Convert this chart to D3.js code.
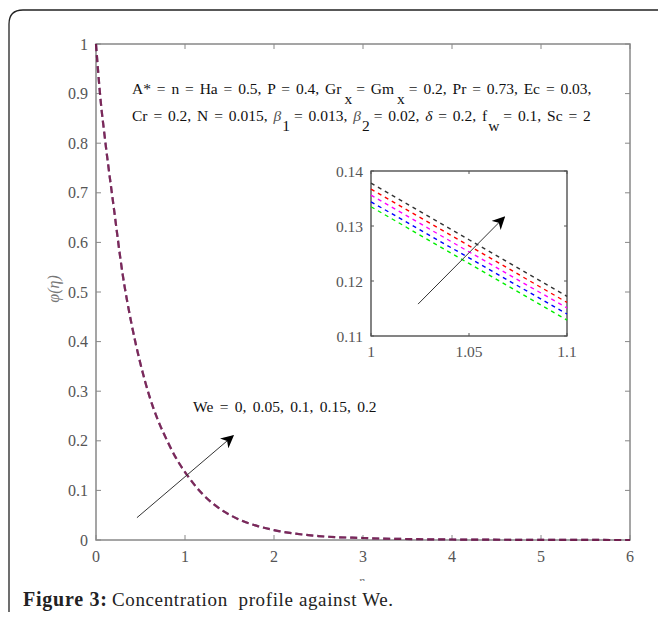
<!DOCTYPE html>
<html>
<head>
<meta charset="utf-8">
<script src="https://cdn.jsdelivr.net/npm/d3@7"></script>
<style>
  body { margin: 0; background: #fff; }
  text { font-family: "Liberation Serif", "Times New Roman", serif; }
</style>
</head>
<body>
<script>
// main plot: profile (all five We curves overlap here)
var eta = [0, 0.05, 0.1, 0.2, 0.3, 0.4, 0.5, 0.6, 0.7, 0.8, 0.9, 1.0, 1.2, 1.4, 1.6, 1.8, 2.0, 2.5, 3.0, 4.0, 5.0, 6.0];
var phi = [1, 0.89, 0.81, 0.67, 0.535, 0.435, 0.355, 0.29, 0.24, 0.2, 0.165, 0.137, 0.092, 0.062, 0.042, 0.029, 0.02, 0.008, 0.004, 0.001, 0.0003, 0];

// inset (zoom 1..1.1)
var etaZoom = [1, 1.05, 1.1];
var weValues = ["0", "0.05", "0.1", "0.15", "0.2"];
var weColors = ["#00ee00", "#0000ff", "#ff00ff", "#ff0000", "#333333"];
var phiZoom = [
  [0.1335, 0.1232, 0.1129],
  [0.1344, 0.1242, 0.1140],
  [0.1356, 0.1253, 0.1151],
  [0.1367, 0.1264, 0.1161],
  [0.1378, 0.1275, 0.1172]
];

var xTicks = [0, 1, 2, 3, 4, 5, 6];
var yTicks = [0, 0.1, 0.2, 0.3, 0.4, 0.5, 0.6, 0.7, 0.8, 0.9, 1];
var xTicksZoom = [1, 1.05, 1.1];
var yTicksZoom = [0.11, 0.12, 0.13, 0.14];

var W = 658, H = 619;
var svg = d3.select("body").append("svg")
  .attr("width", W).attr("height", H);

// frame with rounded corner
svg.append("path")
  .attr("d", "M9,612 L9,24 Q9,10 23,10 L660,10")
  .attr("fill", "none").attr("stroke", "#222").attr("stroke-width", 1.3);

// main scales
var x = d3.scaleLinear().domain([0, 6]).range([96, 630]);
var y = d3.scaleLinear().domain([0, 1]).range([540, 44]);

var axisColor = "#888";
var labelColor = "#555";

// ticks (inward, mirrored on top/right)
var main = svg.append("g");
main.selectAll(".xt").data(xTicks).enter().append("path")
  .attr("d", function(d) { return "M" + x(d) + ",540 v-5 M" + x(d) + ",44 v5"; })
  .attr("stroke", axisColor).attr("stroke-width", 1);
main.selectAll(".yt").data(yTicks).enter().append("path")
  .attr("d", function(d) { return "M96," + y(d) + " h5 M630," + y(d) + " h-5"; })
  .attr("stroke", axisColor).attr("stroke-width", 1);
main.append("rect")
  .attr("x", 96).attr("y", 44).attr("width", 534).attr("height", 496)
  .attr("fill", "none").attr("stroke", axisColor).attr("stroke-width", 1.5);

main.selectAll(".xl").data(xTicks).enter().append("text")
  .attr("x", function(d) { return x(d); }).attr("y", 562)
  .attr("text-anchor", "middle").attr("fill", labelColor)
  .style("font-size", "16px").text(function(d) { return d; });
main.selectAll(".yl").data(yTicks).enter().append("text")
  .attr("x", 88).attr("y", function(d) { return y(d) + 5.5; })
  .attr("text-anchor", "end").attr("fill", labelColor)
  .style("font-size", "16px").text(function(d) { return d; });

// y label
svg.append("text")
  .attr("transform", "translate(59,289) rotate(-90)")
  .attr("text-anchor", "middle").attr("fill", "#777")
  .style("font-size", "16px").style("font-style", "italic")
  .text("\u03c6(\u03b7)");

// x label (mostly hidden behind caption area)
svg.append("text")
  .attr("x", 362).attr("y", 585).attr("text-anchor", "middle")
  .attr("fill", "#777").style("font-size", "12px").style("font-style", "italic")
  .text("\u03b7");
svg.append("rect").attr("x", 12).attr("y", 581).attr("width", 646).attr("height", 38).attr("fill", "#fff");

// main curves: all five lines drawn on top of each other
var lineMain = d3.line()
  .x(function(d, i) { return x(eta[i]); })
  .y(function(d) { return y(d); })
  .curve(d3.curveMonotoneX);
weValues.forEach(function(we, k) {
  main.append("path")
    .datum(phi)
    .attr("d", lineMain)
    .attr("fill", "none")
    .attr("stroke", k == 4 ? "#000" : weColors[k])
    .attr("stroke-opacity", 0.36)
    .attr("stroke-width", 2.2)
    .attr("stroke-dasharray", "7,4");
});

// arrow marker
var defs = svg.append("defs");
defs.append("marker").attr("id", "ah")
  .attr("viewBox", "0 0 10 10").attr("refX", 9).attr("refY", 5)
  .attr("markerWidth", 13).attr("markerHeight", 13)
  .attr("markerUnits", "userSpaceOnUse")
  .attr("orient", "auto")
  .append("path").attr("d", "M0,0 L10,5 L0,10 L3,5 Z").attr("fill", "#000");

// main arrow
svg.append("line")
  .attr("x1", x(0.46)).attr("y1", y(0.045))
  .attr("x2", x(1.54)).attr("y2", y(0.21))
  .attr("stroke", "#333").attr("stroke-width", 1)
  .attr("marker-end", "url(#ah)");

svg.append("text")
  .attr("x", 193).attr("y", 412).attr("fill", "#111")
  .style("font-size", "15.5px").style("word-spacing", "2.5px")
  .text("We = 0, 0.05, 0.1, 0.15, 0.2");

// parameter annotation
var ann = svg.append("text").attr("x", 132).attr("y", 94).attr("fill", "#111")
  .style("font-size", "15.5px").style("word-spacing", "2px");
ann.append("tspan").text("A* = n = Ha = 0.5, P = 0.4, Gr");
ann.append("tspan").attr("dy", 10).attr("dx", 3).text("x");
ann.append("tspan").attr("dy", -10).attr("dx", 4).text("= Gm");
ann.append("tspan").attr("dy", 10).attr("dx", 3).text("x");
ann.append("tspan").attr("dy", -10).attr("dx", 4).text("= 0.2, Pr = 0.73, Ec = 0.03,");

var ann2 = svg.append("text").attr("x", 132).attr("y", 121).attr("fill", "#111")
  .style("font-size", "15.5px").style("word-spacing", "2px");
ann2.append("tspan").text("Cr = 0.2, N = 0.015, ");
ann2.append("tspan").style("font-style", "italic").attr("fill", "#555").text("\u03b2");
ann2.append("tspan").attr("dy", 10).attr("dx", 1).text("1");
ann2.append("tspan").attr("dy", -10).attr("dx", 4).text("= 0.013, ");
ann2.append("tspan").style("font-style", "italic").attr("fill", "#555").text("\u03b2");
ann2.append("tspan").attr("dy", 10).attr("dx", 1).text("2");
ann2.append("tspan").attr("dy", -10).attr("dx", 4).text("= 0.02, ");
ann2.append("tspan").style("font-style", "italic").text("\u03b4");
ann2.append("tspan").text(" = 0.2, f");
ann2.append("tspan").attr("dy", 10).attr("dx", 1).text("w");
ann2.append("tspan").attr("dy", -10).attr("dx", 4).text("= 0.1, Sc = 2");

// inset
var xz = d3.scaleLinear().domain([1, 1.1]).range([371, 567]);
var yz = d3.scaleLinear().domain([0.11, 0.14]).range([336, 171]);
var inset = svg.append("g");
inset.append("rect")
  .attr("x", 371).attr("y", 171).attr("width", 196).attr("height", 165)
  .attr("fill", "#fff").attr("stroke", "#333").attr("stroke-width", 1.2);
inset.selectAll(".zxt").data(xTicksZoom).enter().append("path")
  .attr("d", function(d) { return "M" + xz(d) + ",336 v-3 M" + xz(d) + ",171 v3"; })
  .attr("stroke", "#555");
inset.selectAll(".zyt").data(yTicksZoom).enter().append("path")
  .attr("d", function(d) { return "M371," + yz(d) + " h3 M567," + yz(d) + " h-3"; })
  .attr("stroke", "#555");
inset.selectAll(".zxl").data(xTicksZoom).enter().append("text")
  .attr("x", function(d) { return xz(d); }).attr("y", 357)
  .attr("text-anchor", "middle").attr("fill", labelColor)
  .style("font-size", "15.5px").text(function(d) { return d; });
inset.selectAll(".zyl").data(yTicksZoom).enter().append("text")
  .attr("x", 363).attr("y", function(d) { return yz(d) + 5.5; })
  .attr("text-anchor", "end").attr("fill", labelColor)
  .style("font-size", "15.5px").text(function(d) { return d; });

var lineZoom = d3.line()
  .x(function(d, i) { return xz(etaZoom[i]); })
  .y(function(d) { return yz(d); });
phiZoom.forEach(function(vals, k) {
  inset.append("path")
    .datum(vals)
    .attr("d", lineZoom)
    .attr("fill", "none")
    .attr("stroke", weColors[k])
    .attr("stroke-width", 1.4)
    .attr("stroke-dasharray", "4,4");
});

inset.append("line")
  .attr("x1", xz(1.024)).attr("y1", yz(0.1158))
  .attr("x2", xz(1.068)).attr("y2", yz(0.1316))
  .attr("stroke", "#333").attr("stroke-width", 1)
  .attr("marker-end", "url(#ah)");

// caption
svg.append("text").attr("x", 23).attr("y", 606).attr("fill", "#222")
  .style("font-size", "20px").style("font-weight", "bold")
  .attr("textLength", 84).attr("lengthAdjust", "spacing")
  .text("Figure 3:");
svg.append("text").attr("x", 112).attr("y", 606).attr("fill", "#222")
  .style("font-size", "19px")
  .attr("textLength", 281).attr("lengthAdjust", "spacing")
  .text("Concentration\u00a0 profile against We.");
</script>
</body>
</html>
